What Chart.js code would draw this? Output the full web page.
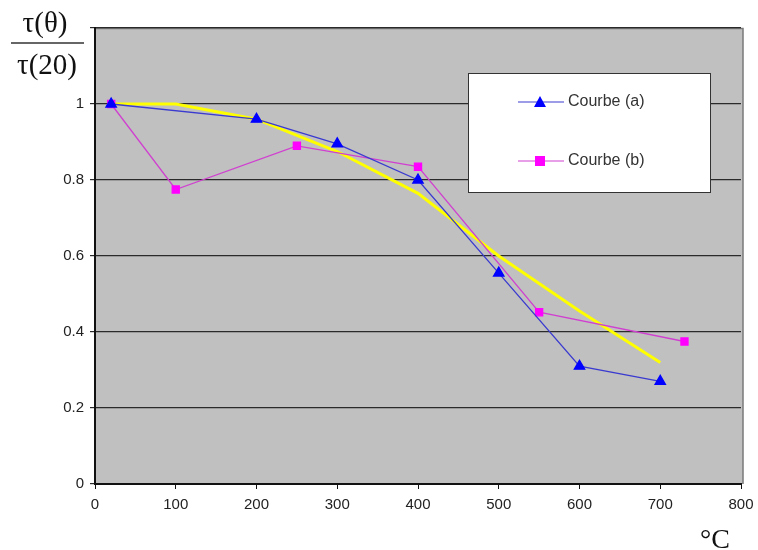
<!DOCTYPE html>
<html>
<head>
<meta charset="utf-8">
<script src="https://cdn.jsdelivr.net/npm/chart.js@4.4.0/dist/chart.umd.min.js"></script>
<style>
  html, body { margin: 0; padding: 0; background: #fff; }
  #wrap { width: 758px; height: 550px; position: relative; }
</style>
</head>
<body>
<div id="wrap"><canvas id="myChart" width="758" height="550"></canvas></div>
<script>
// data
var xTicks = [0, 100, 200, 300, 400, 500, 600, 700, 800];
var yTicks = [0, 0.2, 0.4, 0.6, 0.8, 1];

var tempA = [20, 200, 300, 400, 500, 600, 700];
var courbeA = [1.0, 0.96, 0.895, 0.80, 0.555, 0.31, 0.27];

var tempB = [20, 100, 250, 400, 550, 730];
var courbeB = [1.0, 0.775, 0.89, 0.835, 0.452, 0.375];

var tempC = [20, 100, 200, 300, 400, 500, 600, 700];
var courbeC = [1.0, 1.0, 0.96, 0.875, 0.765, 0.6, 0.455, 0.32];

var labels = ['Courbe (a)', 'Courbe (b)', ''];

function pts(xs, ys) {
  return xs.map(function(x, i) { return { x: x, y: ys[i] }; });
}

// grey plot background + frame
var plotBg = {
  id: 'plotBg',
  beforeDraw: function(chart) {
    var a = chart.chartArea, c = chart.ctx;
    c.save();
    c.fillStyle = '#c0c0c0';
    c.fillRect(a.left, a.top, a.right - a.left + 2, a.bottom - a.top);
    c.strokeStyle = '#7a7a7a';
    c.lineWidth = 1.5;
    c.beginPath();
    c.moveTo(a.left, a.top + 0.5);
    c.lineTo(a.right + 2, a.top + 0.5);
    c.lineTo(a.right + 2, a.bottom);
    c.stroke();
    c.restore();
  }
};

// axis titles and the legend box
var extras = {
  id: 'extras',
  afterDraw: function(chart) {
    var c = chart.ctx;
    c.save();
    // y title as a fraction
    c.fillStyle = '#111';
    c.font = '29px "Liberation Serif", "DejaVu Serif", serif';
    c.textAlign = 'center';
    c.textBaseline = 'alphabetic';
    c.fillText('\u03c4(\u03b8)', 45, 32);
    c.fillText('\u03c4(20)', 47, 74);
    c.strokeStyle = '#333';
    c.lineWidth = 1.5;
    c.beginPath();
    c.moveTo(11, 43);
    c.lineTo(84, 43);
    c.stroke();
    // x title
    c.font = '28px "Liberation Serif", "DejaVu Serif", serif';
    c.fillText('\u00b0C', 715, 548);

    // legend
    c.fillStyle = '#fff';
    c.fillRect(468, 73, 243, 120);
    c.strokeStyle = '#333';
    c.lineWidth = 1;
    c.strokeRect(468.5, 73.5, 242, 119);
    var rows = [102, 161];
    [0, 1].forEach(function(i) {
      var ds = chart.data.datasets[i];
      var y = rows[i];
      c.strokeStyle = ds.borderColor;
      c.lineWidth = 1.2;
      c.beginPath();
      c.moveTo(518, y);
      c.lineTo(564, y);
      c.stroke();
      c.fillStyle = ds.pointBackgroundColor;
      c.beginPath();
      if (ds.pointStyle === 'triangle') {
        c.moveTo(540, y - 6);
        c.lineTo(546, y + 5);
        c.lineTo(534, y + 5);
        c.closePath();
      } else {
        c.rect(535, y - 5, 10, 10);
      }
      c.fill();
      c.fillStyle = '#333';
      c.font = '16px "Liberation Sans", Arial, sans-serif';
      c.textAlign = 'left';
      c.textBaseline = 'middle';
      c.fillText(ds.label, 568, y);
    });
    c.restore();
  }
};

var ctx = document.getElementById('myChart').getContext('2d');
var myChart = new Chart(ctx, {
  type: 'line',
  data: {
    datasets: [{
      label: labels[0],
      data: pts(tempA, courbeA),
      borderColor: '#3a3ad0',
      borderWidth: 1.3,
      pointStyle: 'triangle',
      pointRadius: 6,
      pointBackgroundColor: '#0000ff',
      pointBorderColor: '#0000ff',
      order: 1
    }, {
      label: labels[1],
      data: pts(tempB, courbeB),
      borderColor: '#d040d0',
      borderWidth: 1.3,
      pointStyle: 'rect',
      pointRadius: 5,
      pointBackgroundColor: '#ff00ff',
      pointBorderColor: '#ff00ff',
      order: 2
    }, {
      label: labels[2],
      data: pts(tempC, courbeC),
      borderColor: '#ffff00',
      borderWidth: 3,
      pointRadius: 0,
      order: 3
    }]
  },
  options: {
    responsive: false,
    animation: false,
    layout: { padding: { top: 28, right: 17, left: 0, bottom: 0 } },
    plugins: {
      legend: { display: false },
      tooltip: { enabled: false }
    },
    scales: {
      x: {
        type: 'linear',
        min: 0,
        max: 800,
        afterBuildTicks: function(s) { s.ticks = xTicks.map(function(v) { return { value: v }; }); },
        afterFit: function(s) { s.height = 66; s.paddingLeft = 0; s.paddingRight = 0; },
        ticks: {
          color: '#222',
          font: { family: '"Liberation Sans", Arial, sans-serif', size: 15 },
          padding: 7,
          maxRotation: 0
        },
        grid: { drawOnChartArea: false, drawTicks: true, tickLength: 5, color: '#111' },
        border: { color: '#111', width: 2 }
      },
      y: {
        min: 0,
        max: 1.2,
        afterBuildTicks: function(s) { s.ticks = yTicks.concat([1.2]).map(function(v) { return { value: v }; }); },
        afterFit: function(s) { s.width = 95; s.paddingTop = 0; s.paddingBottom = 0; },
        ticks: {
          color: '#222',
          font: { family: '"Liberation Sans", Arial, sans-serif', size: 15 },
          padding: 6,
          callback: function(v) { return yTicks.indexOf(v) >= 0 ? String(v) : ''; }
        },
        grid: {
          color: '#2a2a2a',
          lineWidth: 1.2,
          tickLength: 5
        },
        border: { color: '#111', width: 2 }
      }
    }
  },
  plugins: [plotBg, extras]
});
</script>
</body>
</html>
